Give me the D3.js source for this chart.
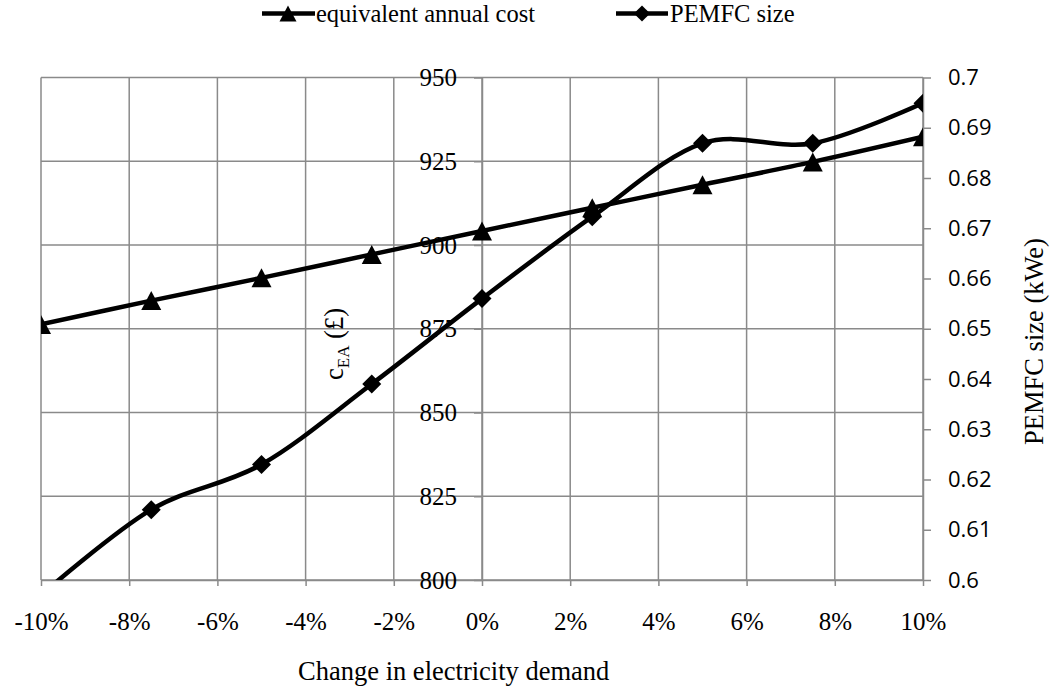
<!DOCTYPE html>
<html>
<head>
<meta charset="utf-8">
<script src="https://cdn.jsdelivr.net/npm/d3@7"></script>
<style>
  html, body { margin: 0; padding: 0; background: #fff; }
  svg { display: block; }
</style>
</head>
<body>
<svg id="chart" width="1050" height="688"></svg>
<script>
// ---- data ----
const categories = [-0.10, -0.075, -0.05, -0.025, 0, 0.025, 0.05, 0.075, 0.10];
const costValues = [876.3, 883.4, 890.2, 897.2, 904.2, 911.1, 918.0, 924.8, 932.3];
const pemfcValues = [0.597, 0.614, 0.623, 0.639, 0.656, 0.6723, 0.6869, 0.6869, 0.6949];
const xTicks = [-0.10, -0.08, -0.06, -0.04, -0.02, 0, 0.02, 0.04, 0.06, 0.08, 0.10];
const costTicks = [800, 825, 850, 875, 900, 925, 950];
const pemfcTicks = [0.6, 0.61, 0.62, 0.63, 0.64, 0.65, 0.66, 0.67, 0.68, 0.69, 0.7];
const seriesNames = ["equivalent annual cost", "PEMFC size"];
const xTitle = "Change in electricity demand";
const rightTitle = "PEMFC size (kWe)";

// ---- layout ----
const L = 41, R = 923, T = 77.5, B = 580;
const serif = "'Liberation Serif', 'Times New Roman', serif";
const sans = "'Open Sans', 'Noto Sans', sans-serif";
const gridColor = "#8a8a8a";

const svg = d3.select("#chart");
const x = d3.scaleLinear().domain([-0.1, 0.1]).range([L, R]);
const yL = d3.scaleLinear().domain([800, 950]).range([B, T]);
const yR = d3.scaleLinear().domain([0.6, 0.7]).range([B, T]);

// clip
svg.append("defs").append("clipPath").attr("id", "plotclip")
  .append("rect").attr("x", L).attr("y", T).attr("width", R - L).attr("height", B - T);

// gridlines
const grid = svg.append("g");
grid.selectAll("line.h").data(costTicks).join("line")
  .attr("x1", L).attr("x2", R).attr("y1", d => yL(d)).attr("y2", d => yL(d))
  .attr("stroke", gridColor).attr("stroke-width", 1.5);
grid.selectAll("line.v").data(xTicks).join("line")
  .attr("y1", T).attr("y2", B).attr("x1", d => x(d)).attr("x2", d => x(d))
  .attr("stroke", gridColor).attr("stroke-width", 1.5);

function styleAxis(g, font, size) {
  g.selectAll(".domain").attr("stroke", gridColor).attr("stroke-width", 1.5);
  g.selectAll(".tick line").attr("stroke", gridColor).attr("stroke-width", 1.5);
  g.selectAll(".tick text").attr("fill", "#000").style("font-family", font).style("font-size", size + "px");
}

// bottom axis
const gx = svg.append("g").attr("transform", `translate(0,${B})`)
  .call(d3.axisBottom(x).tickValues(xTicks).tickSize(6).tickSizeOuter(0).tickPadding(26)
    .tickFormat(d => Math.round(d * 100) + "%"));
styleAxis(gx, serif, 25);

// left axis at x = 0
const gy = svg.append("g").attr("transform", `translate(${x(0)},0)`)
  .call(d3.axisLeft(yL).tickValues(costTicks).tickSize(8).tickSizeOuter(0).tickPadding(17)
    .tickFormat(d => String(d)));
styleAxis(gy, serif, 25);

// right axis
const gr = svg.append("g").attr("transform", `translate(${R},0)`)
  .call(d3.axisRight(yR).tickValues(pemfcTicks).tickSize(8).tickSizeOuter(0).tickPadding(17)
    .tickFormat(d => String(+d.toFixed(2))));
styleAxis(gr, sans, 22);

// lines
const plot = svg.append("g").attr("clip-path", "url(#plotclip)");
const curve = d3.curveCardinal.tension(0);
const costLine = d3.line().x((d, i) => x(categories[i])).y(d => yL(d)).curve(curve);
const pemLine = d3.line().x((d, i) => x(categories[i])).y(d => yR(d)).curve(curve);
plot.append("path").attr("d", costLine(costValues)).attr("fill", "none")
  .attr("stroke", "#000").attr("stroke-width", 4.5).attr("stroke-linejoin", "round");
plot.append("path").attr("d", pemLine(pemfcValues)).attr("fill", "none")
  .attr("stroke", "#000").attr("stroke-width", 4.5).attr("stroke-linejoin", "round");

const triPath = "M0,-9.5L10,9.5L-10,9.5Z";
const diaPath = "M0,-9.5L9.5,0L0,9.5L-9.5,0Z";
const markers = svg.append("g").attr("clip-path", "url(#plotclip)");
markers.selectAll("path.tri").data(costValues).join("path")
  .attr("d", triPath).attr("fill", "#000")
  .attr("transform", (d, i) => `translate(${x(categories[i])},${yL(d)})`);
markers.selectAll("path.dia").data(pemfcValues).join("path")
  .attr("d", diaPath).attr("fill", "#000")
  .attr("transform", (d, i) => `translate(${x(categories[i])},${yR(d)})`);

// axis titles
svg.append("text").attr("x", 453.7).attr("y", 680).attr("text-anchor", "middle")
  .style("font-family", serif).style("font-size", "26.5px").text(xTitle);

svg.append("text").attr("transform", "translate(1043,341.5) rotate(-90)").attr("text-anchor", "middle")
  .style("font-family", serif).style("font-size", "26.5px").text(rightTitle);

const lt = svg.append("text").attr("transform", "translate(343,344) rotate(-90)").attr("text-anchor", "middle")
  .style("font-family", serif).style("font-size", "26.5px");
lt.append("tspan").text("c");
lt.append("tspan").attr("dy", 6).style("font-size", "17px").text("EA");
lt.append("tspan").attr("dy", -6).text(" (£)");

// legend
const legend = svg.append("g");
const legItems = [
  { name: seriesNames[0], x0: 262, x1: 315, mx: 288, tx: 316, path: triPath },
  { name: seriesNames[1], x0: 616, x1: 668, mx: 642, tx: 670, path: diaPath }
];
legItems.forEach(it => {
  legend.append("line").attr("x1", it.x0).attr("x2", it.x1).attr("y1", 13.5).attr("y2", 13.5)
    .attr("stroke", "#000").attr("stroke-width", 4.5);
  legend.append("path").attr("d", it.path).attr("fill", "#000")
    .attr("transform", `translate(${it.mx},13.5) scale(0.85)`);
  legend.append("text").attr("x", it.tx).attr("y", 22).style("font-family", serif)
    .style("font-size", "24.5px").text(it.name);
});
</script>
</body>
</html>
